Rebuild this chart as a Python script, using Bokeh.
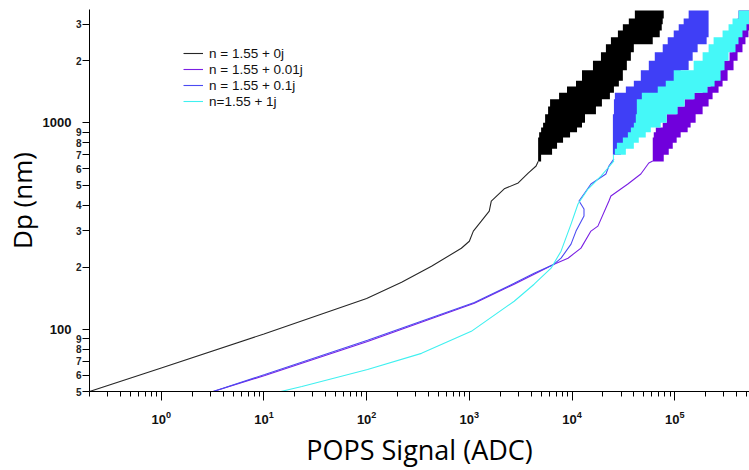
from bokeh.plotting import figure
from bokeh.models import Range1d, LogAxis, FixedTicker, Legend, LegendItem
from bokeh.embed import file_html
from bokeh.resources import INLINE

# ---------------- data ----------------
BLACK_SIG = [0.2, 1, 10, 100, 219, 428, 836, 1000, 1094, 1308, 1563, 1636, 2188, 2992, 3741, 4470, 4677]
BLACK_DP = [50, 65, 95, 141, 169, 202, 247, 267, 299, 334, 374, 418, 479, 512, 571, 618, 650]

PURPLE_SIG = [3.2, 10.2, 102, 1119, 2734, 4276, 6683, 9140, 12220, 15290, 17870, 22880, 23920, 34990, 46770, 55940, 61110]
PURPLE_DP = [50, 59.8, 87.4, 133.7, 165.4, 184.9, 206.8, 221.1, 247.3, 299.1, 316.2, 418.2, 442.3, 505.7, 565.3, 639.2, 654]

BLUE_SIG = [3.2, 10.2, 102, 1119, 2734, 4276, 6683, 7820, 9780, 10940, 13080, 13080, 11700, 13080, 15290, 21380, 22880, 25590]
BLUE_DP = [50, 60.5, 88.5, 135, 167, 187, 206.8, 221.1, 258.6, 299.1, 353.6, 382.4, 418.2, 452.3, 505.7, 565.3, 618.2, 669]

CYAN_SIG = [14.6, 23.4, 102, 342, 1045, 2734, 4276, 6252, 7820, 9780, 11430, 14300, 19130, 22390, 25590]
CYAN_DP = [50, 52.9, 63.9, 76.5, 97.8, 136.8, 165.4, 197.8, 239.1, 323.4, 404.5, 478.2, 552.8, 604.5, 654]

# multi-valued (resonance) region: signal range per diameter level
DP_BAND = [650, 700, 750, 800, 850, 900, 950, 1000, 1100, 1200, 1300, 1400, 1500, 1600,
           1800, 2000, 2200, 2400, 2600, 2800, 3000, 3200, 3500]
BLACK_LO = [4677, 4677, 4677, 4677, 4786, 5000, 5227, 5470, 5848, 6113, 7480, 8940, 10940, 12510,
            15990, 19130, 21380, 23920, 27980, 31260, 35730, 40920, 48880]
BLACK_HI = [5000, 6395, 7150, 8180, 9570, 11190, 12510, 13370, 17100, 19550, 23380, 25590, 28590, 31260,
            34200, 37410, 39990, 61110, 71450, 74780, 76420, 78200, 79980]
PURPLE_LO = [61110, 61110, 61110, 61110, 62520, 65460, 76420, 83600, 104500, 125000, 152900, 187000, 223800, 244500,
             292500, 342100, 365600, 374100, 391000, 400000, 409300, 418000, 437500]
PURPLE_HI = [78200, 87480, 95700, 104500, 114300, 133700, 142900, 159900, 187000, 213800, 233800, 267300, 292500, 327300,
             374100, 409300, 457100, 488700, 522700, 571500, 625200, 684000, 764400]
BLUE_LO = [25590, 25000, 25000, 25000, 25000, 25000, 25000, 25000, 25590, 25590, 26140, 33440, 39990, 46770,
           55940, 63970, 76420, 85500, 97800, 109400, 122200, 136700, 156400]
BLUE_HI = [25590, 29920, 33440, 35730, 39990, 44670, 48880, 52240, 61110, 73110, 83600, 95700, 104500, 114300,
           136700, 149600, 167200, 204600, 213800, 213800, 213800, 213800, 213800]
CYAN_LO = [25000, 26140, 27350, 31260, 34990, 37410, 39990, 41800, 42760, 42760, 47840, 68350, 81820, 97800,
           152900, 187000, 213800, 239200, 292500, 334400, 365600, 418000, 511400]
CYAN_HI = [25590, 33440, 39990, 44670, 52240, 58480, 73110, 83600, 106900, 125000, 156400, 209000, 244500, 279700,
           305600, 334400, 391000, 418000, 457100, 500000, 571500, 625200, 684000]

LABELS = ["n = 1.55 + 0j", "n = 1.55 + 0.01j", "n = 1.55 + 0.1j", "n=1.55 + 1j"]
LINE_COLORS = ["#262626", "#7a1fe3", "#4b4bf2", "#3ff0f0"]
BAND_COLORS = ["#000000", "#7000dc", "#3f3ff6", "#45f8f8"]

X_MAJOR = [1, 10, 100, 1000, 10000, 100000]
Y_MAJOR = [100, 1000]
Y_MINOR = [50, 60, 70, 80, 90, 200, 300, 400, 500, 600, 700, 800, 900, 2000, 3000]
Y_MINOR_LABELS = ["5", "6", "7", "8", "9", "2", "3", "4", "5", "6", "7", "8", "9", "2", "3"]

# ---------------- figure ----------------
p = figure(width=749, height=470, x_axis_type="log", y_axis_type="log",
           x_range=Range1d(0.2, 5.35e5), y_range=Range1d(50, 3540),
           output_backend="svg", toolbar_location=None,
           min_border_left=88, min_border_right=0, min_border_top=9, min_border_bottom=79)
p.outline_line_color = None
p.xgrid.visible = False
p.ygrid.visible = False
p.background_fill_color = "white"
p.border_fill_color = "white"


def stairs(dp, lo, hi):
    y, x1, x2 = [], [], []
    for i in range(len(dp)):
        if i > 0:
            y.append(dp[i]); x1.append(lo[i - 1]); x2.append(hi[i - 1])
        y.append(dp[i]); x1.append(lo[i]); x2.append(hi[i])
    return x1, x2, y


series = [
    (BLACK_SIG, BLACK_DP, BLACK_LO, BLACK_HI),
    (PURPLE_SIG, PURPLE_DP, PURPLE_LO, PURPLE_HI),
    (BLUE_SIG, BLUE_DP, BLUE_LO, BLUE_HI),
    (CYAN_SIG, CYAN_DP, CYAN_LO, CYAN_HI),
]
line_renderers = []
for (sig, dp, lo, hi), lc, bc in zip(series, LINE_COLORS, BAND_COLORS):
    r = p.line(sig, dp, line_color=lc, line_width=1.1)
    line_renderers.append(r)
    x1, x2, y = stairs(DP_BAND, lo, hi)
    p.harea(x1=x1, x2=x2, y=y, fill_color=bc, fill_alpha=1.0)

# ---------------- axes ----------------
minor_x = [m * 10.0 ** k for k in range(-1, 6) for m in range(2, 10)]
xa = p.xaxis[0]
xa.ticker = FixedTicker(ticks=X_MAJOR, minor_ticks=minor_x)
xa.axis_line_color = "black"
xa.major_tick_out = 9
xa.major_tick_in = 0
xa.minor_tick_out = 5
xa.minor_tick_in = 0
xa.major_label_standoff = 10
xa.major_label_text_font = "Liberation Sans"
xa.major_label_text_font_size = "13px"
xa.major_label_text_font_style = "bold"
xa.major_label_text_color = "#111111"
xa.major_label_text_line_height = 1.0
xa.axis_label = "POPS Signal (ADC)"
xa.axis_label_text_font = "Open Sans"
xa.axis_label_text_font_size = "27px"
xa.axis_label_text_font_style = "normal"
xa.axis_label_text_color = "black"
xa.axis_label_text_line_height = 1.0
xa.axis_label_standoff = 4

ya = p.yaxis[0]
ya.ticker = FixedTicker(ticks=Y_MINOR + Y_MAJOR, minor_ticks=[])
overrides = {t: s for t, s in zip(Y_MINOR, Y_MINOR_LABELS)}
for t in Y_MAJOR:
    overrides[t] = ""
ya.major_label_overrides = overrides
ya.major_tick_out = 7
ya.major_tick_in = 0
ya.minor_tick_out = 0
ya.minor_tick_in = 0
ya.major_label_standoff = 1
ya.major_label_text_font = "Liberation Sans"
ya.major_label_text_font_size = "10px"
ya.major_label_text_font_style = "bold"
ya.major_label_text_color = "#222222"
ya.axis_line_color = "black"

ya2 = LogAxis(ticker=FixedTicker(ticks=Y_MAJOR, minor_ticks=[]))
ya2.major_label_overrides = {t: str(t) for t in Y_MAJOR}
ya2.axis_line_color = None
ya2.major_tick_out = 0
ya2.major_tick_in = 0
ya2.minor_tick_out = 0
ya2.minor_tick_in = 0
ya2.major_label_standoff = 1
ya2.major_label_text_font = "Liberation Sans"
ya2.major_label_text_font_size = "13px"
ya2.major_label_text_font_style = "bold"
ya2.major_label_text_color = "#111111"
ya2.axis_label = "Dp (nm)"
ya2.axis_label_text_font = "Open Sans"
ya2.axis_label_text_font_size = "26px"
ya2.axis_label_text_font_style = "normal"
ya2.axis_label_text_color = "black"
ya2.axis_label_text_line_height = 1.0
ya2.axis_label_standoff = 0
p.add_layout(ya2, "left")

# ---------------- legend ----------------
legend = Legend(items=[LegendItem(label=l, renderers=[r]) for l, r in zip(LABELS, line_renderers)],
                location=(94, 282), padding=0, spacing=0, margin=0,
                label_height=16, glyph_height=16, glyph_width=20, label_standoff=6,
                label_text_font="Liberation Sans", label_text_font_size="13.5px",
                label_text_color="#111111",
                background_fill_alpha=0, border_line_color=None)
p.add_layout(legend, "center")

open("out.html", "w").write(file_html(p, INLINE))
